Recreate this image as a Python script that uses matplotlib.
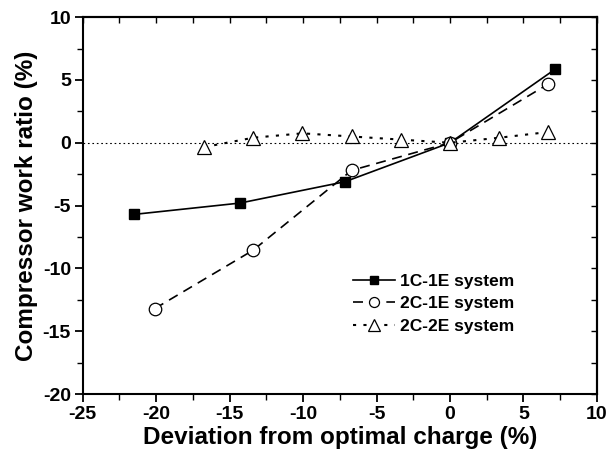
import matplotlib
matplotlib.use("Agg")
import matplotlib.pyplot as plt
from matplotlib.ticker import MultipleLocator

plt.rcParams['font.family'] = ['Liberation Sans', 'DejaVu Sans']
plt.rcParams['font.weight'] = 'bold'
plt.rcParams['axes.unicode_minus'] = False

# Data
x_1c1e = [-21.5, -14.3, -7.15, 0.0, 7.15]
y_1c1e = [-5.7, -4.8, -3.1, 0.0, 5.85]
x_2c1e = [-20.1, -13.4, -6.7, 0.0, 6.65]
y_2c1e = [-13.2, -8.55, -2.2, 0.0, 4.65]
x_2c2e = [-16.75, -13.4, -10.05, -6.7, -3.35, 0.0, 3.35, 6.65]
y_2c2e = [-0.35, 0.4, 0.75, 0.5, 0.25, 0.0, 0.4, 0.85]
labels = ['1C-1E system', '2C-1E system', '2C-2E system']
xlim = (-25, 10)
ylim = (-20, 10)

fig = plt.figure(figsize=(6.10, 4.62), dpi=100)
ax = fig.add_axes([0.1356, 0.147, 0.843, 0.816])

ax.axhline(0, color='black', lw=0.8, ls=(0, (1.5, 2.5)), zorder=1)

ax.plot(x_1c1e, y_1c1e, '-', color='black', lw=1.2, marker='s', ms=7.7,
        mfc='black', mec='black', label=labels[0], zorder=3)
ax.plot(x_2c1e, y_2c1e, ls=(0, (6, 4)), color='black', lw=1.2, marker='o', ms=9,
        mfc='white', mec='black', mew=0.9, label=labels[1], zorder=3)
ax.plot(x_2c2e, y_2c2e, ls=(0, (1.5, 3.5)), color='black', lw=1.5, marker='^', ms=10,
        mfc='white', mec='black', mew=0.9, label=labels[2], zorder=3)

ax.set_xlim(*xlim)
ax.set_ylim(*ylim)
ax.xaxis.set_major_locator(MultipleLocator(5))
ax.xaxis.set_minor_locator(MultipleLocator(2.5))
ax.yaxis.set_major_locator(MultipleLocator(5))
ax.yaxis.set_minor_locator(MultipleLocator(2.5))
ax.tick_params(which='major', direction='out', length=6, width=1.3, labelsize=14, pad=2.5)
ax.tick_params(which='minor', direction='out', length=4, width=1.0)
for lab in ax.get_xticklabels() + ax.get_yticklabels():
    lab.set_fontweight('bold')
for sp in ax.spines.values():
    sp.set_linewidth(1.5)

secx = ax.secondary_xaxis('top')
secx.xaxis.set_major_locator(MultipleLocator(2.5))
secx.tick_params(direction='in', length=4, width=1.0, labeltop=False)
secx.spines['top'].set_linewidth(1.5)
secy = ax.secondary_yaxis('right')
secy.yaxis.set_major_locator(MultipleLocator(2.5))
secy.tick_params(direction='in', length=4, width=1.0, labelright=False)
secy.spines['right'].set_linewidth(1.5)

ax.set_xlabel('Deviation from optimal charge (%)', fontsize=17.5, fontweight='bold', labelpad=2)
ax.set_ylabel('Compressor work ratio (%)', fontsize=17.5, fontweight='bold', labelpad=3)

leg = ax.legend(loc='upper left', bbox_to_anchor=(0.526, 0.32), frameon=False,
                prop={'weight': 'bold', 'size': 12.5}, handlelength=2.4,
                handletextpad=0.3, labelspacing=0.43, borderaxespad=0, borderpad=0,
                markerscale=0.8)

fig.savefig('out.png', dpi=100)
